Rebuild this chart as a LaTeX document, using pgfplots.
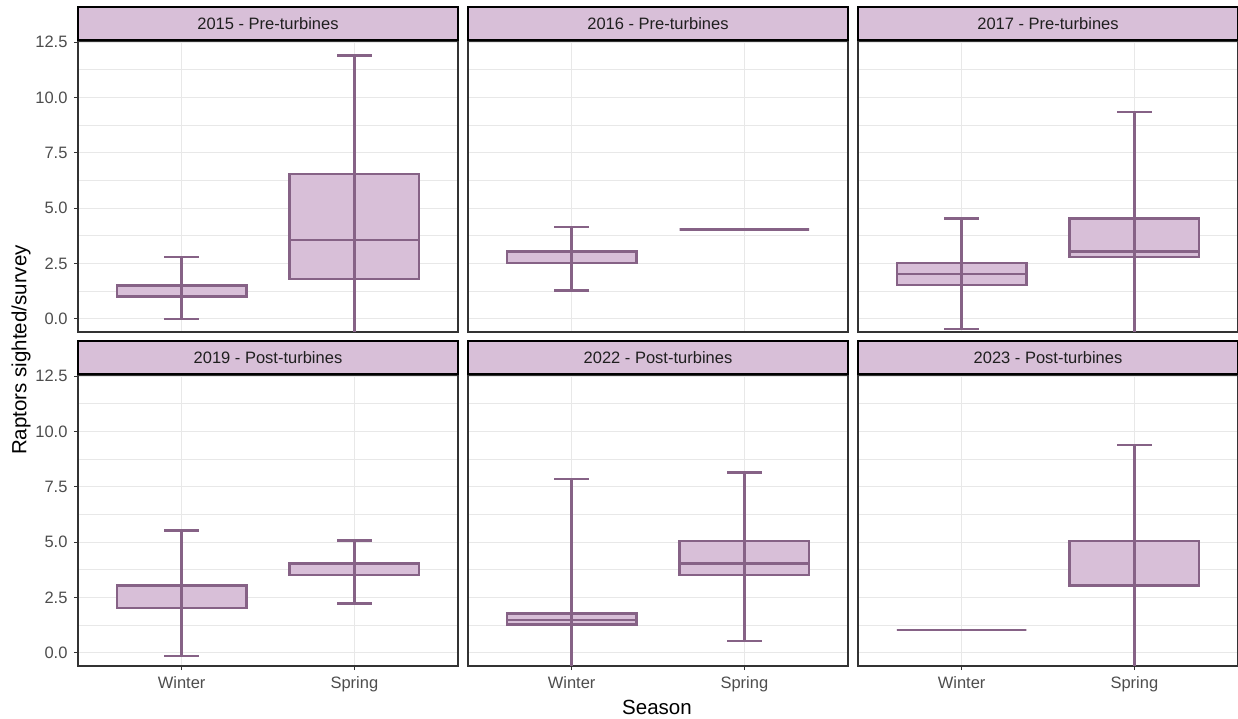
\documentclass[border=0pt]{standalone}
\usepackage{fontspec}
\setmainfont{Liberation Sans}
\usepackage{pgfplots}
\pgfplotsset{compat=1.18}
\definecolor{boxfill}{RGB}{216,191,216}
\definecolor{boxline}{RGB}{134,98,134}
\definecolor{gridc}{RGB}{232,232,232}
\definecolor{grey20}{RGB}{51,51,51}
\definecolor{grey30}{RGB}{77,77,77}
\newcommand{\fsTick}{\fontsize{16.5bp}{19bp}\selectfont}
\newcommand{\fsTitle}{\fontsize{20.5bp}{24bp}\selectfont}
\tikzset{bl/.style={boxline, line width=2.4bp, line cap=butt, line join=miter, mark=none}}
% position, lower whisker, lower quartile, median, upper quartile, upper whisker
\newcommand{\bx}[6]{%
  \pgfmathsetmacro\xl{#1-0.375}\pgfmathsetmacro\xr{#1+0.375}%
  \pgfmathsetmacro\cl{#1-0.1}\pgfmathsetmacro\cr{#1+0.1}%
  \addplot[bl, fill=boxfill] coordinates {(\xl,#3) (\xr,#3) (\xr,#5) (\xl,#5)} --cycle;
  \addplot[bl] coordinates {(\xl,#4) (\xr,#4)};
  \addplot[bl] coordinates {(\cl,#2) (\cr,#2)};
  \addplot[bl] coordinates {(\cl,#6) (\cr,#6)};
  \addplot[bl] coordinates {(#1,#2) (#1,#6)};
}
\pgfplotsset{
  facet/.style={
    scale only axis, width=380bp, height=291bp,
    xmin=0.4, xmax=2.6, ymin=-0.6, ymax=12.55,
    xtick={1,2}, xticklabels={Winter,Spring},
    ytick={0,2.5,5,7.5,10,12.5},
    yticklabels={0.0,2.5,5.0,7.5,10.0,12.5},
    minor ytick={1.25,3.75,6.25,8.75,11.25},
    grid=both,
    major grid style={gridc, line width=1.1bp},
    minor grid style={gridc, line width=0.6bp},
    axis line style={grey20, line width=1.2bp},
    tick style={grey20, line width=1.1bp},
    tick align=outside, major tick length=4bp, minor tick length=0pt,
    xtick pos=bottom, ytick pos=left,
    ticklabel style={font=\fsTick, text=grey30},
    xticklabel style={yshift=-3bp},
    yticklabel style={xshift=-3bp},
    every axis title/.style={at={(0.5,1)}, anchor=south, fill=boxfill, draw=black, line width=1.6bp,
      minimum width=380bp, minimum height=33bp, inner sep=0pt, font=\fsTick, text=black!88},
    clip=true,
  },
  noy/.style={yticklabels={}, y tick style={draw=none}},
  nox/.style={xticklabels={}, x tick style={draw=none}},
}
\begin{document}
\begin{tikzpicture}
\useasboundingbox (0,0) rectangle (1238bp,719bp);

% Row 1
\begin{axis}[facet, nox, at={(78bp,387bp)}, anchor=south west, title={2015 - Pre-turbines}]
  \bx{1}{0}{1.0}{1.0}{1.5}{2.78}
  \bx{2}{-1}{1.79}{3.55}{6.55}{11.9}
\end{axis}
\begin{axis}[facet, nox, noy, at={(468bp,387bp)}, anchor=south west, title={2016 - Pre-turbines}]
  \bx{1}{1.28}{2.52}{2.52}{3.03}{4.15}
  \bx{2}{4.03}{4.03}{4.03}{4.03}{4.03}
\end{axis}
\begin{axis}[facet, nox, noy, at={(858bp,387bp)}, anchor=south west, title={2017 - Pre-turbines}]
  \bx{1}{-0.47}{1.53}{2.03}{2.52}{4.52}
  \bx{2}{-1}{2.78}{3.03}{4.52}{9.35}
\end{axis}

% Row 2
\begin{axis}[facet, at={(78bp,53bp)}, anchor=south west, title={2019 - Post-turbines}]
  \bx{1}{-0.15}{2.03}{2.03}{3.03}{5.52}
  \bx{2}{2.22}{3.52}{3.52}{4.03}{5.08}
\end{axis}
\begin{axis}[facet, noy, at={(468bp,53bp)}, anchor=south west, title={2022 - Post-turbines}]
  \bx{1}{-1}{1.27}{1.48}{1.78}{7.85}
  \bx{2}{0.54}{3.52}{4.03}{5.04}{8.15}
\end{axis}
\begin{axis}[facet, noy, at={(858bp,53bp)}, anchor=south west, title={2023 - Post-turbines}]
  \bx{1}{1.03}{1.03}{1.03}{1.03}{1.03}
  \bx{2}{-1}{3.03}{3.03}{5.04}{9.4}
\end{axis}

\node[rotate=90, font=\fsTitle, text=black] at (21bp,369bp) {Raptors sighted/survey};
\node[font=\fsTitle, text=black] at (657bp,12bp) {Season};
\end{tikzpicture}
\end{document}
